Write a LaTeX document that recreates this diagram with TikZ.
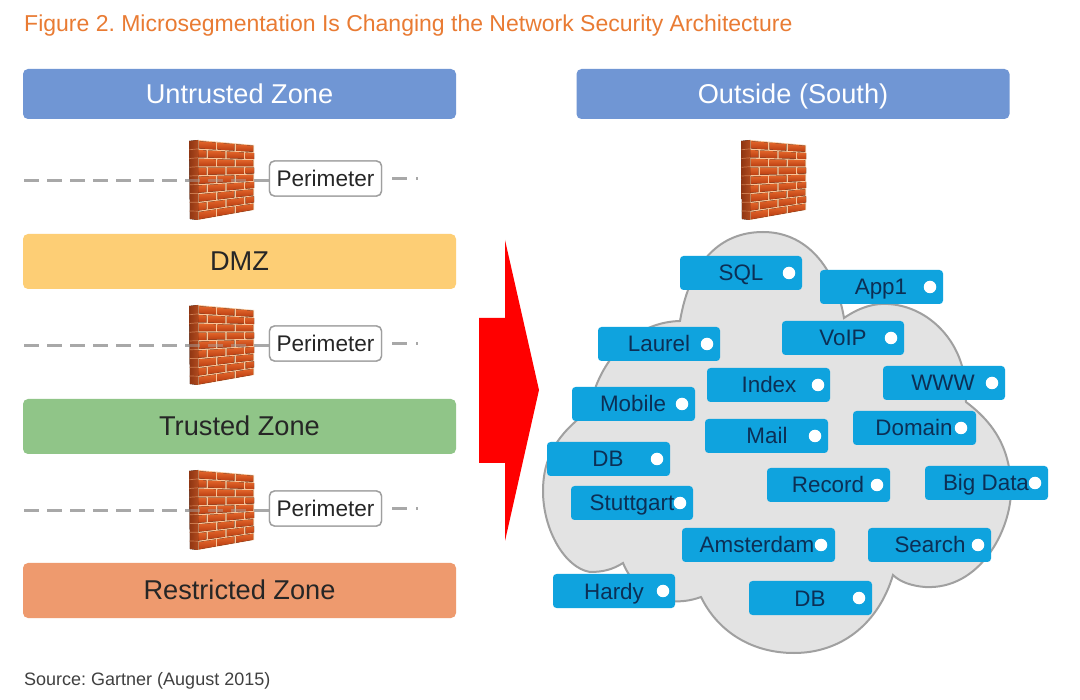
\documentclass[tikz,border=0pt]{standalone}
\usepackage{fontspec}
\setmainfont{Liberation Sans}
\definecolor{titleorange}{HTML}{E97B33}
\definecolor{zoneblue}{HTML}{7096D4}
\definecolor{zoneyellow}{HTML}{FDCE75}
\definecolor{zonegreen}{HTML}{90C588}
\definecolor{zoneorange}{HTML}{EE9A6E}
\definecolor{tagblue}{HTML}{0FA3DE}
\definecolor{tagtext}{HTML}{0C2F55}
\definecolor{cloudfill}{HTML}{E3E3E3}
\definecolor{cloudline}{HTML}{A0A0A0}
\definecolor{dashgray}{HTML}{A8A8A8}
\definecolor{mortar}{HTML}{F8C498}
\definecolor{brickhi}{HTML}{E2652A}
\definecolor{bricklo}{HTML}{BA3E12}
\definecolor{wallside}{HTML}{8E3512}
\definecolor{wallsidelo}{HTML}{B04A1E}
\newcommand{\fs}[1]{\fontsize{#1}{#1}\selectfont}
\frenchspacing
\tikzset{
  zonebox/.style={draw=none,rounded corners=5pt,minimum width=433pt,inner sep=0pt,text height=21pt,text depth=2pt,font=\fs{27.2}},
  perimbox/.style={draw=gray!75,fill=white,line width=1.4pt,rounded corners=5pt,minimum width=112pt,minimum height=35pt,inner sep=0pt,text height=17pt,text depth=0pt,text=black!85,font=\fs{22.6}},
  tagbox/.style={fill=tagblue,rounded corners=3.5pt,inner sep=0pt,minimum height=34pt},
  tagword/.style={text=tagtext,inner sep=0pt,text height=16pt,text depth=0pt,font=\fs{22.4}},
  tagdot/.style={circle,fill=white,inner sep=0pt,minimum size=12.5pt},
  perimline/.style={dashgray,line width=3pt,dash pattern=on 15pt off 8pt},
}
\newcommand{\brickwall}[2]{%
  \begin{scope}[shift={(#1,#2)}]
    \fill[mortar] (198,140)--(254,145)--(254,210)--(198,220)--cycle;
    \begin{scope}
      \clip (198,140)--(254,145)--(254,210)--(198,220)--cycle;
      \foreach \r in {0,...,8}{
        \pgfmathsetmacro{\off}{mod(\r,2)==0 ? 0 : -1/6}
        \pgfmathsetmacro{\va}{(\r+.12)/9}
        \pgfmathsetmacro{\vb}{(\r+.94)/9}
        \foreach \c in {0,...,3}{
          \pgfmathsetmacro{\ua}{\c/3+\off+.015}
          \pgfmathsetmacro{\ub}{(\c+1)/3+\off-.015}
          \pgfmathsetmacro{\xa}{198+56*\ua}
          \pgfmathsetmacro{\xb}{198+56*\ub}
          \pgfmathsetmacro{\yaa}{140+5*\ua+(80-15*\ua)*\va}
          \pgfmathsetmacro{\yba}{140+5*\ub+(80-15*\ub)*\va}
          \pgfmathsetmacro{\yab}{140+5*\ua+(80-15*\ua)*\vb}
          \pgfmathsetmacro{\ybb}{140+5*\ub+(80-15*\ub)*\vb}
          \fill[top color=brickhi,bottom color=bricklo]
            (\xa,\yaa)--(\xb,\yba)--(\xb,\ybb)--(\xa,\yab)--cycle;
        }
      }
    \end{scope}
    \fill[left color=wallside,right color=wallsidelo] (189,141)--(198,140)--(198,220)--(190,219)--cycle;
    \foreach \r in {1,...,8}{
      \draw[wallsidelo!60!mortar,line width=.7pt] (189.5,141+\r*8.75)--(198,140+\r*8.9);
    }
  \end{scope}}
\newcommand{\perimrow}[2]{%
  \coordinate (ps#1) at (24,181+#2);
  \coordinate (pe#1) at (418,179+#2);
  \node[perimbox] (perim#1) at (325.5,178.5+#2) {Perimeter};
  \draw[perimline] (ps#1) -- (perim#1.west |- ps#1);
  \brickwall{0}{#2}
  \draw[perimline,opacity=.45] (ps#1) -- (perim#1.west |- ps#1);
  \node[perimbox] at (perim#1) {Perimeter};
  \draw[perimline,dash pattern=on 15pt off 9pt on 2pt off 20pt] (perim#1.east |- pe#1) ++(10,0) -- (pe#1);
}
\newcommand{\tagitem}[7]{%
  \node[tagbox,minimum width=#4pt] (#1) at (#2+#4/2,#3+17) {};
  \node[tagword] (#1t) at (#5,#3+17) {#7};
  \node[tagdot] (#1d) at (#6,#3+17) {};
}
\begin{document}
\begin{tikzpicture}[x=1pt,y=-1pt]
\path[use as bounding box,fill=white] (0,0) rectangle (1080,700);

\node[anchor=base west,inner sep=0pt,text=titleorange,font=\fs{23}] (title) at (24,32) {Figure 2. Microsegmentation Is Changing the Network Security Architecture};

\node[zonebox,fill=zoneblue,text=white,minimum height=50pt] (untrusted) at (239.5,94) {Untrusted Zone};
\node[zonebox,fill=zoneyellow,text=black!85,minimum height=55pt] (dmz) at (239.5,261.5) {DMZ};
\node[zonebox,fill=zonegreen,text=black!85,minimum height=55pt] (trusted) at (239.5,426.5) {Trusted Zone};
\node[zonebox,fill=zoneorange,text=black!85,minimum height=55pt] (restricted) at (239.5,590.5) {Restricted Zone};
\node[zonebox,fill=zoneblue,text=white,minimum height=50pt] (outside) at (793,94) {Outside (South)};

\perimrow{a}{0}
\perimrow{b}{165}
\perimrow{c}{330}
\brickwall{552}{0}

\fill[red] (505,240)--(539,390)--(505,541)--(505,463)--(479,463)--(479,318)--(505,318)--cycle;

\draw[cloudline,fill=cloudfill,line width=2pt,line join=miter]
  (680,321) .. controls (690,262) and (720,232) .. (763,232)
  .. controls (805,232) and (835,265) .. (844,318)
  .. controls (860,307) and (875,303) .. (888,304)
  .. controls (925,306) and (955,335) .. (963,370)
  -- (966,402)
  .. controls (990,420) and (1011,445) .. (1011,490)
  .. controls (1011,530) and (980,590) .. (925,587)
  .. controls (912,586) and (900,582) .. (893,575)
  .. controls (878,625) and (840,653) .. (794,653)
  .. controls (750,653) and (717,630) .. (701,597)
  .. controls (690,601) and (680,602) .. (670,601)
  .. controls (650,598) and (632,585) .. (623,563)
  .. controls (612,570) and (602,572) .. (590,572)
  .. controls (565,568) and (543,530) .. (543,491)
  .. controls (543,460) and (555,435) .. (590,410)
  -- (596,386)
  .. controls (610,350) and (640,322) .. (680,321)
  -- cycle;

\tagitem{sql}{680}{256}{122}{741}{789}{SQL}
\tagitem{app}{820}{270}{123}{881}{930}{App1}
\tagitem{voip}{782}{321}{122}{843}{891}{VoIP}
\tagitem{laurel}{598}{327}{122}{659}{707}{Laurel}
\tagitem{index}{707}{368}{123}{769}{818}{Index}
\tagitem{www}{883}{366}{122}{943}{992}{WWW}
\tagitem{mobile}{572}{387}{123}{633}{682}{Mobile}
\tagitem{mail}{705}{419}{123}{767}{815}{Mail}
\tagitem{domain}{853}{411}{123}{914}{961}{Domain}
\tagitem{dba}{547}{442}{123}{608}{657}{DB}
\tagitem{record}{767}{468}{123}{828}{877}{Record}
\tagitem{bigdata}{925}{466}{123}{986}{1035}{Big Data}
\tagitem{stuttgart}{571}{486}{122}{632}{680}{Stuttgart}
\tagitem{amsterdam}{682}{528}{153}{757}{821}{Amsterdam}
\tagitem{search}{868}{528}{123}{930}{978}{Search}
\tagitem{hardy}{553}{574}{122}{614}{663}{Hardy}
\tagitem{dbb}{749}{581}{123}{810}{859}{DB}

\node[anchor=base west,inner sep=0pt,text=black!75,font=\fs{18}] (source) at (24,685) {Source: Gartner (August 2015)};
\end{tikzpicture}
\end{document}
